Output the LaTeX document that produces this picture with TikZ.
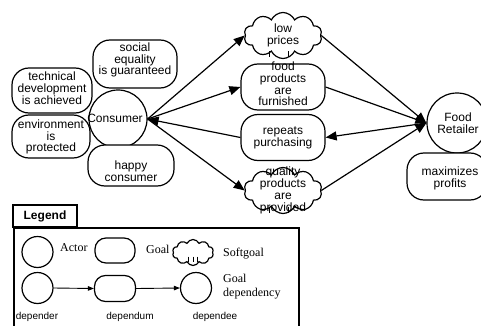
\documentclass[tikz,border=0pt]{standalone}
\usepackage{fontspec}
\setmainfont{Liberation Sans}
\newfontfamily\legendserif{Liberation Serif}
\usetikzlibrary{shapes.symbols, arrows.meta, calc}

\tikzset{
  actor/.style={circle, draw, line width=1.2pt, fill=white, inner sep=0pt, minimum size=#1},
  goal/.style={rectangle, rounded corners=17pt, draw, line width=1.2pt, fill=white, inner sep=0pt},
  soft/.style={cloud, cloud puffs=10, cloud puff arc=130, aspect=1.7, draw, line width=1.2pt,
               fill=white, inner sep=0pt},
  crease/.style={line width=1pt},
  txt/.style={font=\fontsize{12}{11.8}\selectfont, align=center, inner sep=0pt},
  legtxt/.style={font=\legendserif\fontsize{12}{14}\selectfont, inner sep=0pt},
  roletxt/.style={font=\fontsize{10}{12}\selectfont, inner sep=0pt},
  dep/.style={line width=1.2pt, -{Triangle[length=11pt,width=9pt]}},
  ldep/.style={line width=0.9pt, -{Triangle[length=6pt,width=4.5pt]}},
}

\begin{document}
\begin{tikzpicture}[x=1pt,y=-1pt]
\useasboundingbox (0,0) rectangle (481,326);
\clip (0,0) rectangle (481,326);

% ---- Consumer actor and its goals
\node[actor=58pt] (cons) at (118,119) {};
\node[goal, minimum width=84pt, minimum height=48pt] (seq) at (135,64) {};
\node[goal, minimum width=80pt, minimum height=45pt] (tdev) at (52,90.5) {};
\node[goal, minimum width=78pt, minimum height=43pt] (env) at (51,136.5) {};
\node[goal, minimum width=86pt, minimum height=41pt] (happy) at (131,165.5) {};
\node[txt] (seq-t) at (135,60) {social\\equality\\is guaranteed};
\node[txt] (tdev-t) at (52,88) {technical\\development\\is achieved};
\node[txt] (env-t) at (51,137) {environment\\is\\protected};
\node[txt] (happy-t) at (131,171) {happy\\consumer};
\node[txt] (cons-t) at (115,118) {Consumer};

% ---- Dependums
\node[soft, minimum width=78pt, minimum height=46pt] (lp) at (283,35.5) {};
\node[goal, minimum width=84pt, minimum height=46pt] (fp) at (283,87) {};
\node[goal, minimum width=84pt, minimum height=46pt] (rp) at (283,137.5) {};
\node[soft, minimum width=78pt, minimum height=46pt] (qp) at (283,190.5) {};
% creases along the lower edge of the softgoal clouds
\foreach \c in {lp,qp}{
  \draw[crease] ($(\c.center)+(-14,16)$) -- ++(0,6);
  \draw[crease] ($(\c.center)+(5,16)$) -- ++(0,6);
}
\node[txt] (lp-t) at (283,35.5) {low\\prices};
\node[txt] (fp-t) at (283,84) {food\\products\\are\\furnished};
\node[txt] (rp-t) at (283,137.5) {repeats\\purchasing};
\node[txt] (qp-t) at (283,190.5) {quality\\products\\are\\provided};

% ---- Food Retailer actor and its goal
\node[actor=60pt] (fr) at (457,123) {};
\node[goal, minimum width=80pt, minimum height=47pt] (mp) at (447,176.5) {};
\node[txt] (fr-t) at (458,123) {Food\\Retailer};
\node[txt] (mp-t) at (450,178) {maximizes\\profits};

% ---- Dependencies
\draw[dep] (cons.east) -- (lp.west);
\draw[dep] (cons.east) -- (fp.west);
\draw[dep] (rp.west) -- (cons.east);
\draw[dep] (cons.east) -- (qp.west);
\draw[dep] (lp.east) -- (fr.west);
\draw[dep] (fp.east) -- (fr.west);
\draw[dep] (qp.east) -- (fr.west);
\draw[dep] (fr.west) -- (rp.east);

% ---- Legend
\node[draw, line width=1.5pt, minimum width=64pt, minimum height=22pt, inner sep=0pt,
      font=\bfseries\fontsize{12}{14}\selectfont] (legtab) at (45,216) {Legend};
\node[draw, line width=2.4pt, minimum width=285pt, minimum height=120pt, inner sep=0pt,
      anchor=north west] (legbox) at (13,227) {};

\node[actor=31pt] (la) at (37.5,252) {};
\node[legtxt, anchor=west] (la-t) at (60,248) {Actor};
\node[goal, rounded corners=11pt, minimum width=40pt, minimum height=25pt] (lg) at (115,250.5) {};
\node[legtxt, anchor=west] (lg-t) at (146,249) {Goal};
\node[soft, minimum width=41pt, minimum height=26pt] (ls) at (193,252.5) {};
\foreach \dx in {-5,0,4}{
  \draw[line width=0.9pt] ($(ls.center)+(\dx,4)$) -- ++(0,5);
}
\node[legtxt, anchor=west] (ls-t) at (223,254) {Softgoal};

\node[actor=31pt] (ldr) at (37.5,288) {};
\node[goal, rounded corners=11pt, minimum width=41pt, minimum height=26pt] (ldm) at (115,288.5) {};
\node[actor=31pt] (lde) at (196,288) {};
\draw[ldep] (ldr.east) -- (ldm.west);
\draw[ldep] (ldm.east) -- (lde.west);
\node[legtxt, align=left, anchor=west] (ldep-t) at (223,287) {Goal\\dependency};

\node[roletxt] (ldr-t) at (37,317) {depender};
\node[roletxt] (ldm-t) at (130,317) {dependum};
\node[roletxt] (lde-t) at (215,317) {dependee};
\end{tikzpicture}
\end{document}
